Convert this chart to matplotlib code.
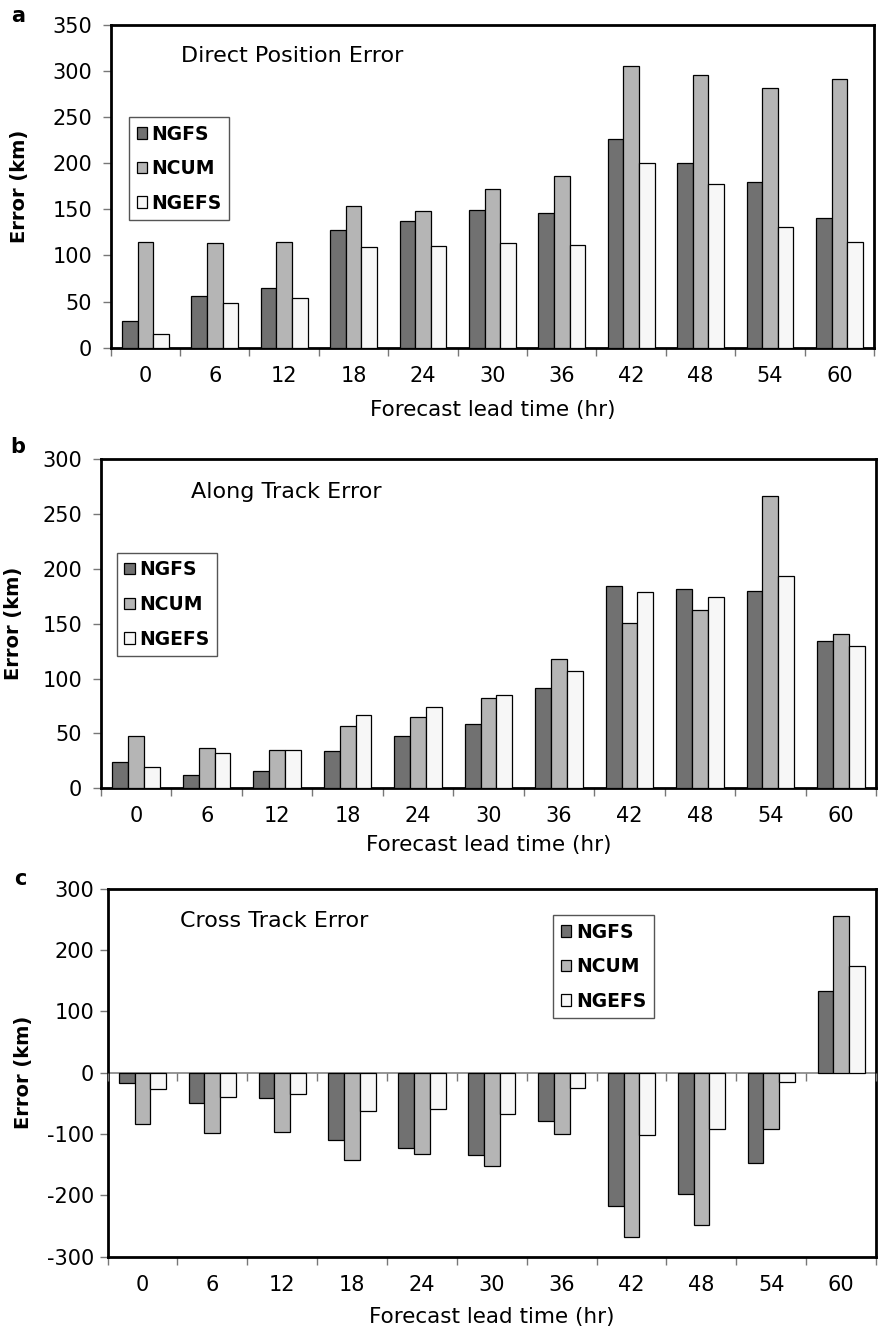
import matplotlib
matplotlib.use("Agg")
import matplotlib.pyplot as plt
import numpy as np

plt.rcParams["font.family"] = ["DejaVu Sans"]
plt.rcParams["axes.unicode_minus"] = False

# Forecast lead times (hr)
hours = [0, 6, 12, 18, 24, 30, 36, 42, 48, 54, 60]
models = ["NGFS", "NCUM", "NGEFS"]
colors = ["#717171", "#b5b5b5", "#f7f7f7"]

# Direct position error (km)
ngfs_dpe = [29, 56, 65, 128, 137, 149, 146, 226, 200, 180, 140]
ncum_dpe = [114, 113, 114, 153, 148, 172, 186, 305, 295, 281, 291]
ngefs_dpe = [15, 48, 54, 109, 110, 113, 111, 200, 177, 131, 115]

# Along track error (km)
ngfs_at = [24, 12, 16, 34, 48, 59, 91, 184, 182, 180, 134]
ncum_at = [48, 37, 35, 57, 65, 82, 118, 151, 162, 266, 141]
ngefs_at = [19, 32, 35, 67, 74, 85, 107, 179, 174, 193, 130]

# Cross track error (km)
ngfs_ct = [-17, -50, -41, -110, -122, -134, -79, -218, -198, -147, 134]
ncum_ct = [-84, -99, -97, -143, -132, -152, -100, -267, -249, -92, 256]
ngefs_ct = [-27, -39, -34, -63, -59, -68, -25, -102, -91, -15, 174]

fig = plt.figure(figsize=(8.8, 13.32), dpi=100)

panels = [
    dict(rect=[0.1258, 0.7390, 0.8674, 0.2425], data=[ngfs_dpe, ncum_dpe, ngefs_dpe],
         ylim=(0, 350), yticks=np.arange(0, 351, 50), title="Direct Position Error",
         title_xy=(0.092, 0.903), leg_xy=(0.024, 0.714), letter="a", letter_xy=(18, 16),
         ylab_x=-0.119, xlab_y=-0.193, ypad=7.5),
    dict(rect=[0.1148, 0.4082, 0.8807, 0.2472], data=[ngfs_at, ncum_at, ngefs_at],
         ylim=(0, 300), yticks=np.arange(0, 301, 50), title="Along Track Error",
         title_xy=(0.116, 0.901), leg_xy=(0.0206, 0.7146), letter="b", letter_xy=(18, 447),
         ylab_x=-0.1135, xlab_y=-0.172, ypad=7.5),
    dict(rect=[0.1222, 0.0565, 0.8733, 0.2763], data=[ngfs_ct, ncum_ct, ngefs_ct],
         ylim=(-300, 300), yticks=np.arange(-300, 301, 100), title="Cross Track Error",
         title_xy=(0.094, 0.913), leg_xy=(0.58, 0.9285), letter="c", letter_xy=(20, 879),
         ylab_x=-0.109, xlab_y=-0.164, ypad=3.5),
]

x = np.arange(len(hours))
width = 0.225
offsets = [-width, 0, width]

for p in panels:
    ax = fig.add_axes(p["rect"])
    for vals, name, col, off in zip(p["data"], models, colors, offsets):
        ax.bar(x + off, vals, width, color=col, edgecolor="black", linewidth=0.9,
               label=name, zorder=3)
    ax.set_xlim(-0.5, len(hours) - 0.5)
    ax.set_ylim(*p["ylim"])
    ax.set_yticks(p["yticks"])
    ax.set_xticks(x)
    ax.set_xticklabels([str(h) for h in hours])
    ax.set_xticks(np.arange(-0.5, len(hours)), minor=True)
    ax.tick_params(axis="x", which="major", length=0, pad=13, labelsize=15)
    ax.tick_params(axis="x", which="minor", length=5.5, width=1.0, color="#777777",
                   direction="out")
    ax.tick_params(axis="y", length=6, width=1.0, color="#777777", labelsize=15,
                   pad=p["ypad"])
    for s in ax.spines.values():
        s.set_linewidth(2.0)
        s.set_color("black")

    if p["ylim"][0] < 0:
        # zero line with its own category ticks
        ax.axhline(0, color="#8c8c8c", linewidth=1.3, zorder=2)
        ax0 = ax.twiny()
        ax0.set_xlim(ax.get_xlim())
        ax0.xaxis.set_ticks_position("bottom")
        ax0.spines["bottom"].set_position(("data", 0))
        for k in ["top", "right", "left", "bottom"]:
            ax0.spines[k].set_visible(False)
        ax0.set_xticks(np.arange(-0.5, len(hours)))
        ax0.set_xticklabels([])
        ax0.tick_params(axis="x", length=6, width=1.0, color="#777777", direction="out")
        ax0.patch.set_visible(False)

    ax.set_ylabel("Error (km)", fontsize=14, fontweight="bold", va="center")
    ax.yaxis.set_label_coords(p["ylab_x"], 0.5)
    ax.set_xlabel("Forecast lead time (hr)", fontsize=15.5, va="center")
    ax.xaxis.set_label_coords(0.5, p["xlab_y"])

    ax.text(p["title_xy"][0], p["title_xy"][1], p["title"], transform=ax.transAxes,
            ha="left", va="center", fontsize=16)

    leg = ax.legend(loc="upper left", bbox_to_anchor=p["leg_xy"], borderaxespad=0,
                    fancybox=False, framealpha=1, edgecolor="#555555",
                    prop=dict(size=13.5, weight="bold"), handlelength=0.55,
                    handleheight=0.55, handletextpad=0.25, labelspacing=0.83,
                    borderpad=0.4)
    leg.get_frame().set_linewidth(1.0)
    leg.set_zorder(5)

    fig.text(p["letter_xy"][0] / 880, 1 - p["letter_xy"][1] / 1332, p["letter"],
             ha="center", va="center", fontsize=15, fontweight="bold")

fig.savefig("out.png", dpi=100)
